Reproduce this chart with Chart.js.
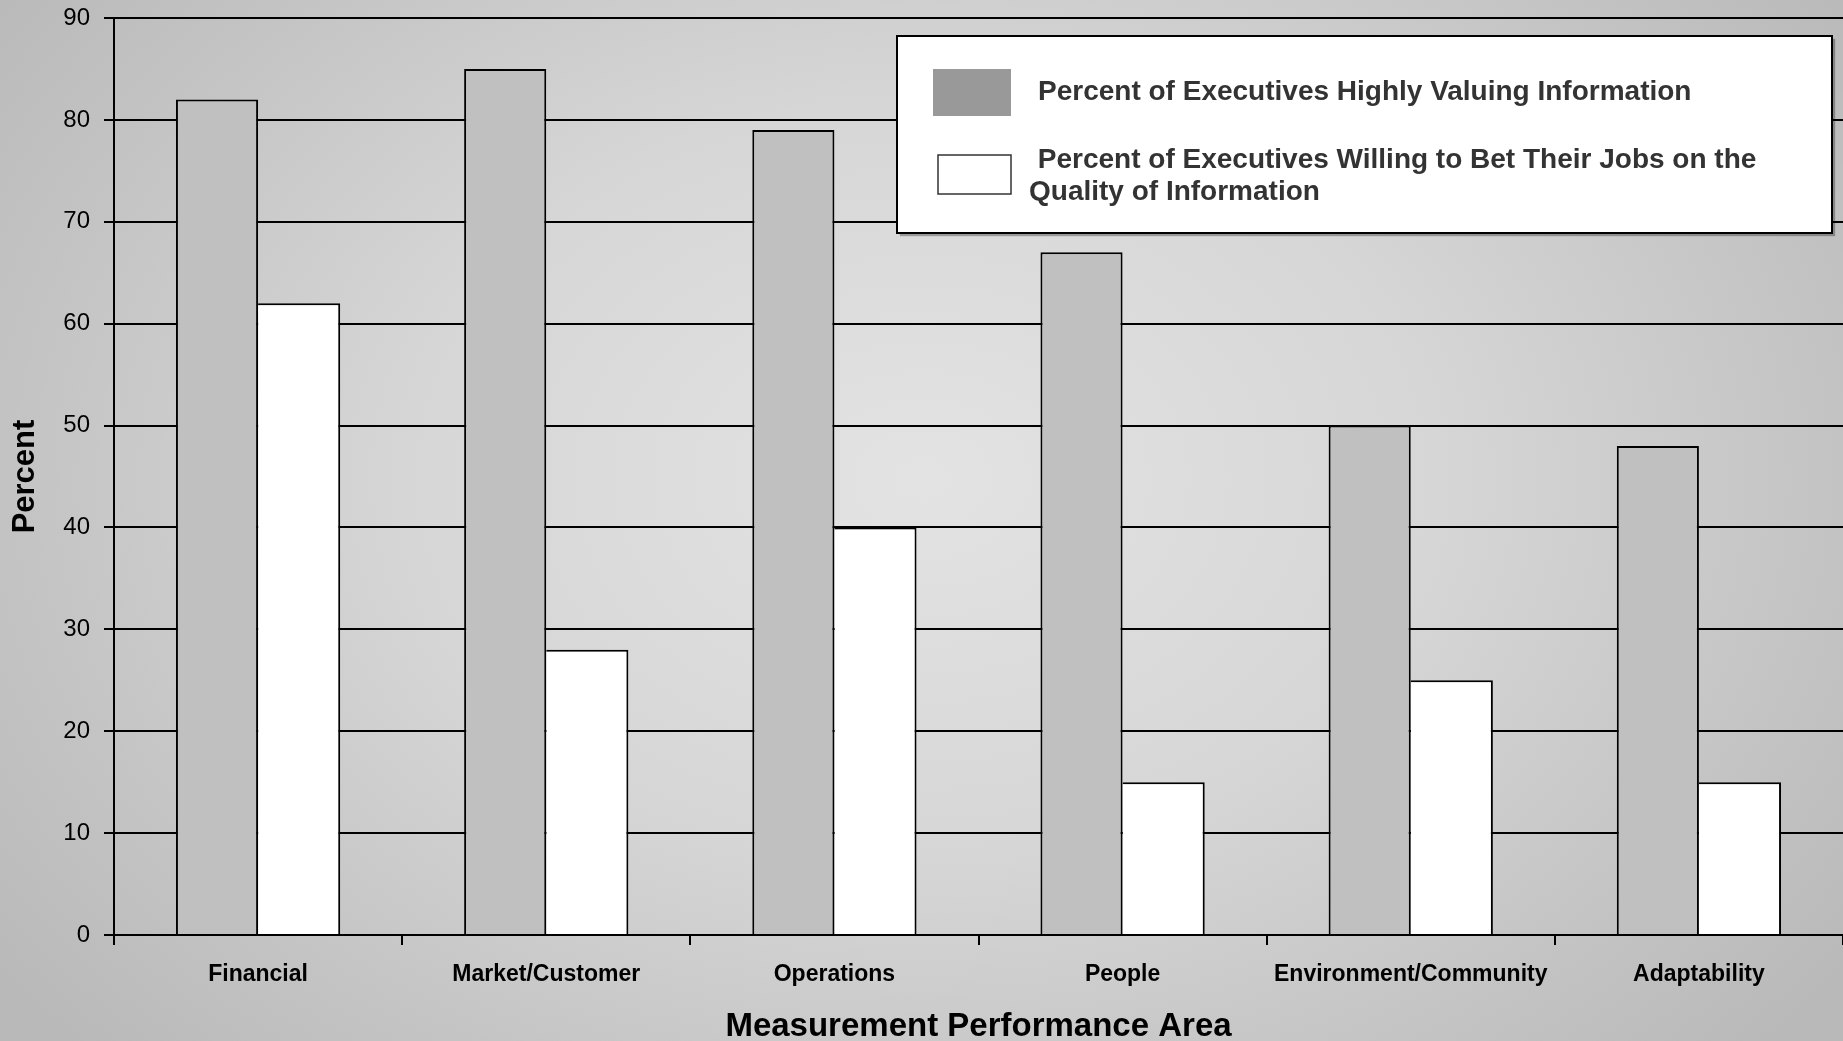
<!DOCTYPE html>
<html>
<head>
<meta charset="utf-8">
<title>Measurement Performance Area</title>
<script src="https://cdn.jsdelivr.net/npm/chart.js@4.4.1/dist/chart.umd.min.js"></script>
<style>
  html, body { margin: 0; padding: 0; overflow: hidden; }
  body {
    width: 1843px; height: 1041px;
    background: radial-gradient(ellipse 62% 80% at 50% 46%, #e3e3e3 0%, #d6d6d6 45%, #c3c3c3 80%, #b9b9b9 100%);
  }
  canvas { display: block; }
</style>
</head>
<body>
<canvas id="chart" width="1843" height="1041"></canvas>
<script>
// Measurement areas along the x axis
const categories = ['Financial', 'Market/Customer', 'Operations', 'People', 'Environment/Community', 'Adaptability'];

// Percent of executives who highly value information in each area
const valuingInfo = [82, 85, 79, 67, 50, 48];

// Percent of executives willing to bet their jobs on the quality of that information
const betJobs = [62, 28, 40, 15, 25, 15];

// Legend text, one entry per series, split into the lines it is shown on
const seriesLines = [
  ['Percent of Executives Highly Valuing Information'],
  [' Percent of Executives Willing to Bet Their Jobs on the', 'Quality of Information']
];

// Value axis range and step
const yMin = 0, yMax = 90, yStep = 10;

const FONT = "'Liberation Sans', Arial, Helvetica, sans-serif";

// Boxed legend in the upper right of the plot
const boxedLegend = {
  id: 'boxedLegend',
  afterDraw(chart) {
    const ctx = chart.ctx;
    const box = { x: 897, y: 36, w: 935, h: 197 };
    ctx.save();
    ctx.shadowColor = 'rgba(0,0,0,0.3)';
    ctx.shadowOffsetX = 3;
    ctx.shadowOffsetY = 3;
    ctx.shadowBlur = 1;
    ctx.fillStyle = '#ffffff';
    ctx.fillRect(box.x, box.y, box.w, box.h);
    ctx.restore();

    ctx.save();
    ctx.lineWidth = 2;
    ctx.strokeStyle = '#000000';
    ctx.strokeRect(box.x, box.y, box.w, box.h);

    // swatch for the first series
    ctx.fillStyle = '#999999';
    ctx.fillRect(933, 69, 78, 47);
    // swatch for the second series
    ctx.fillStyle = '#ffffff';
    ctx.fillRect(938, 155, 73, 39);
    ctx.lineWidth = 1.5;
    ctx.strokeStyle = '#333333';
    ctx.strokeRect(938, 155, 73, 39);

    ctx.fillStyle = '#333333';
    ctx.font = 'bold 28px ' + FONT;
    ctx.textBaseline = 'alphabetic';
    ctx.textAlign = 'left';
    const ds = chart.data.datasets;
    ctx.fillText(ds[0].legendLines[0], 1038, 100);
    ctx.fillText(ds[1].legendLines[0], 1030, 168);
    ctx.fillText(ds[1].legendLines[1], 1029, 200);
    ctx.restore();
  }
};

new Chart(document.getElementById('chart'), {
  type: 'bar',
  data: {
    labels: categories,
    datasets: [
      {
        label: seriesLines[0].join(' '),
        legendLines: seriesLines[0],
        data: valuingInfo,
        backgroundColor: '#c0c0c0',
        borderColor: '#000000',
        borderWidth: { top: 2, left: 2, right: 2, bottom: 0 },
        borderSkipped: false,
        categoryPercentage: 0.57,
        barPercentage: 1.0
      },
      {
        label: seriesLines[1].join(' ').trim(),
        legendLines: seriesLines[1],
        data: betJobs,
        backgroundColor: '#ffffff',
        borderColor: '#000000',
        borderWidth: { top: 2, left: 0, right: 2, bottom: 0 },
        borderSkipped: false,
        categoryPercentage: 0.57,
        barPercentage: 1.0
      }
    ]
  },
  options: {
    responsive: false,
    animation: false,
    devicePixelRatio: 1,
    layout: { padding: { top: 18, right: 0, bottom: 0, left: 0 } },
    plugins: {
      legend: { display: false },
      tooltip: { enabled: false }
    },
    scales: {
      x: {
        offset: true,
        grid: {
          offset: true,
          drawOnChartArea: false,
          drawTicks: true,
          tickLength: 10,
          color: '#000000',
          lineWidth: 2
        },
        border: { display: true, color: '#000000', width: 2 },
        ticks: {
          color: '#000000',
          padding: 16,
          maxRotation: 0,
          autoSkip: false,
          font: { family: FONT, size: 23, weight: 'bold' }
        },
        title: {
          display: true,
          text: 'Measurement Performance Area',
          color: '#000000',
          padding: { top: 0, bottom: 0 },
          font: { family: FONT, size: 33, weight: 'bold', lineHeight: 0.85 }
        },
        afterFit(scale) {
          scale.height = 106;
          scale.paddingLeft = 0;
          scale.paddingRight = 0;
        }
      },
      y: {
        min: yMin,
        max: yMax,
        ticks: {
          stepSize: yStep,
          color: '#000000',
          padding: 14,
          font: { family: FONT, size: 24 }
        },
        grid: {
          color: '#000000',
          lineWidth: 2,
          tickLength: 10,
          drawTicks: true
        },
        border: { display: true, color: '#000000', width: 2 },
        title: {
          display: true,
          text: 'Percent',
          color: '#000000',
          padding: { top: 7, bottom: 0 },
          font: { family: FONT, size: 31, weight: 'bold', lineHeight: 1.2 }
        },
        afterFit(scale) {
          scale.width = 114;
          scale.paddingTop = 0;
          scale.paddingBottom = 0;
        }
      }
    }
  },
  plugins: [boxedLegend]
});
</script>
</body>
</html>
